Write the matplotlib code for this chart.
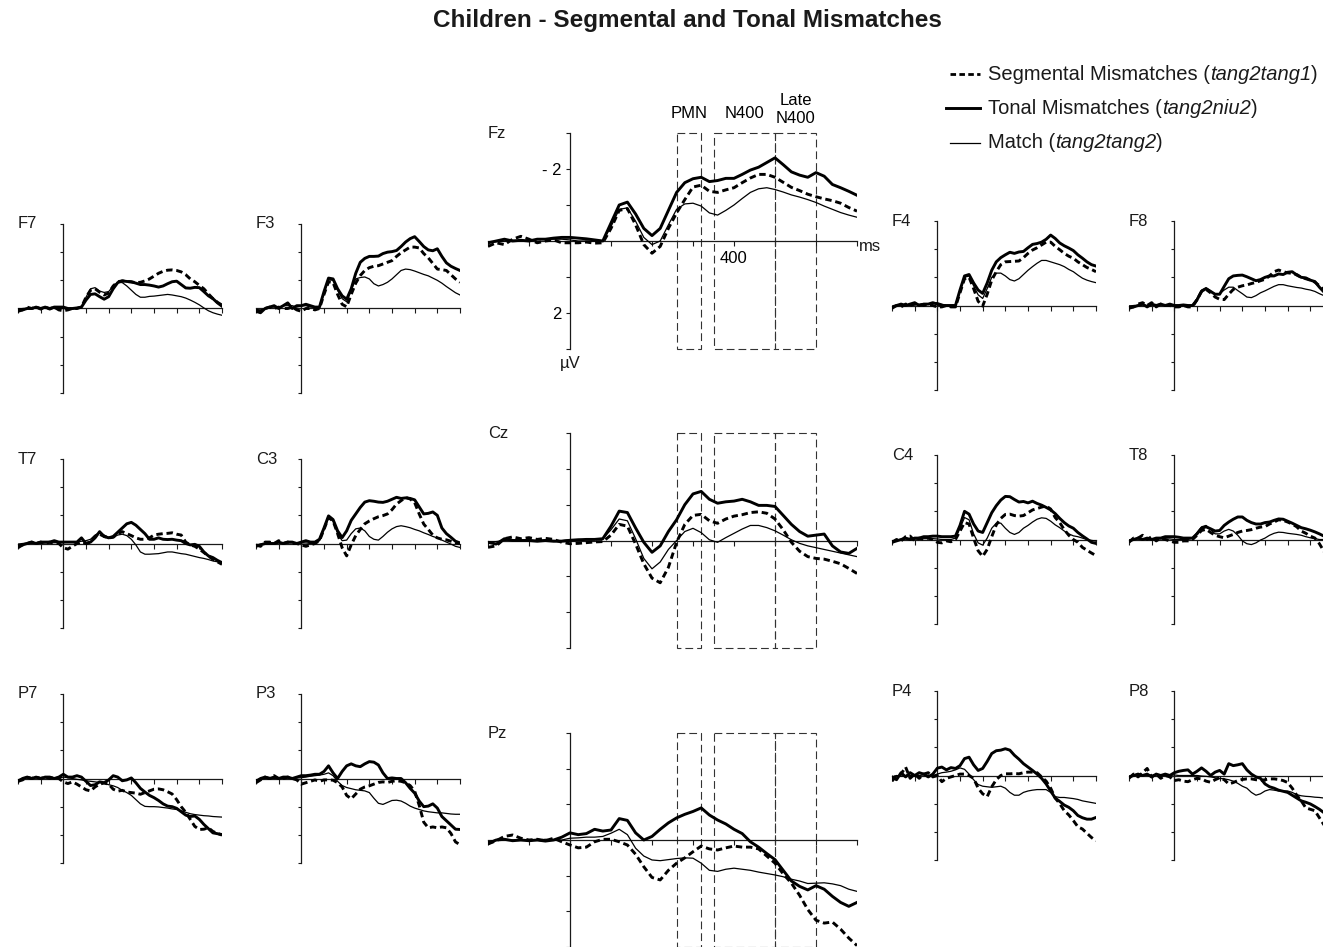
import numpy as np
import matplotlib
matplotlib.use("Agg")
import matplotlib.pyplot as plt
from matplotlib.patches import Rectangle
from matplotlib.lines import Line2D
from matplotlib.text import Annotation

plt.rcParams['font.family'] = ['Liberation Sans', 'DejaVu Sans']

# ---------------- data ----------------
TIME = np.arange(-200, 701, 20)  # ms

TITLE = "Children - Segmental and Tonal Mismatches"
LEGEND_NAMES = ["Segmental Mismatches", "Tonal Mismatches", "Match"]
LEGEND_ITEMS = ["tang2tang1", "tang2niu2", "tang2tang2"]
WINDOWS = [(260, 320), (350, 500), (500, 600)]
WINDOW_LABELS = ["PMN", "N400", "Late\nN400"]

# Fz
FZ_T = [0.05, 0.0, -0.05, 0.0, -0.02, 0.0, -0.05, -0.05, -0.08, -0.1,
        -0.1, -0.08, -0.06, -0.03, 0.0, -0.5, -1.0, -1.08, -0.75, -0.35,
        -0.15, -0.35, -0.85, -1.35, -1.62, -1.73, -1.77, -1.65, -1.68, -1.74,
        -1.74, -1.85, -1.97, -2.05, -2.18, -2.31, -2.12, -1.92, -1.83, -1.77,
        -1.9, -1.8, -1.57, -1.48, -1.38, -1.27]
FZ_S = [0.15, 0.05, 0.1, -0.05, -0.13, -0.05, 0.05, 0.0, -0.03, 0.05,
        0.05, 0.05, 0.03, 0.06, 0.05, -0.35, -0.85, -0.9, -0.45, 0.1,
        0.34, 0.15, -0.35, -0.78, -1.15, -1.5, -1.55, -1.38, -1.35, -1.42,
        -1.48, -1.62, -1.75, -1.85, -1.85, -1.77, -1.63, -1.49, -1.4, -1.3,
        -1.23, -1.17, -1.12, -1.05, -0.93, -0.83]
FZ_M = [0.05, 0.02, 0.0, -0.02, 0.0, -0.02, -0.04, -0.05, -0.05, -0.05,
        -0.03, 0.0, 0.0, 0.0, 0.0, -0.4, -0.88, -0.92, -0.55, -0.1,
        0.1, 0.0, -0.45, -0.88, -1.03, -1.05, -0.97, -0.78, -0.72, -0.85,
        -1.0, -1.18, -1.35, -1.45, -1.48, -1.43, -1.36, -1.28, -1.22, -1.15,
        -1.07, -0.97, -0.88, -0.79, -0.72, -0.66]
# Cz
CZ_T = [0.05, 0.1, -0.05, 0.0, 0.0, 0.0, 0.02, 0.0, 0.02, 0.02,
        0.0, -0.02, -0.03, -0.03, -0.05, -0.4, -0.82, -0.78, -0.35, 0.05,
        0.33, 0.15, -0.25, -0.58, -1.0, -1.3, -1.37, -1.15, -1.04, -1.08,
        -1.1, -1.15, -1.08, -0.98, -0.98, -0.95, -0.7, -0.45, -0.25, -0.12,
        -0.15, -0.18, 0.15, 0.32, 0.36, 0.22]
CZ_S = [0.19, 0.15, -0.05, -0.1, -0.05, -0.08, -0.03, -0.06, -0.03, 0.05,
        0.09, 0.08, 0.06, 0.04, 0.03, -0.15, -0.45, -0.4, 0.1, 0.65,
        1.05, 1.18, 0.75, 0.05, -0.45, -0.7, -0.73, -0.55, -0.48, -0.6,
        -0.68, -0.72, -0.78, -0.8, -0.76, -0.6, -0.3, 0.05, 0.3, 0.45,
        0.5, 0.52, 0.58, 0.65, 0.78, 0.92]
CZ_M = [0.05, 0.03, 0.0, -0.02, 0.0, -0.02, 0.0, -0.02, 0.0, 0.0,
        -0.03, -0.03, -0.02, -0.02, -0.05, -0.3, -0.6, -0.55, -0.05, 0.5,
        0.79, 0.6, 0.25, 0.0, -0.25, -0.34, -0.22, -0.02, 0.05, -0.08,
        -0.2, -0.32, -0.42, -0.42, -0.36, -0.27, -0.15, -0.02, 0.08, 0.15,
        0.2, 0.25, 0.3, 0.35, 0.4, 0.45]
# Pz
PZ_T = [0.1, 0.0, -0.02, 0.02, 0.0, 0.02, 0.0, 0.03, 0.0, -0.08,
        -0.2, -0.15, -0.18, -0.3, -0.25, -0.28, -0.6, -0.55, -0.2, 0.0,
        -0.1, -0.3, -0.48, -0.62, -0.72, -0.8, -0.9, -0.7, -0.56, -0.45,
        -0.3, -0.18, 0.05, 0.2, 0.38, 0.55, 0.85, 1.15, 1.3, 1.4,
        1.28, 1.38, 1.58, 1.75, 1.86, 1.75]
PZ_S = [0.11, 0.02, -0.1, -0.14, -0.05, 0.0, -0.02, 0.02, -0.05, 0.05,
        0.14, 0.22, 0.2, 0.05, -0.02, -0.02, 0.05, 0.14, 0.4, 0.75,
        1.05, 1.12, 0.85, 0.65, 0.5, 0.33, 0.17, 0.25, 0.28, 0.22,
        0.17, 0.2, 0.2, 0.25, 0.45, 0.65, 0.95, 1.21, 1.55, 1.95,
        2.25, 2.33, 2.3, 2.5, 2.75, 2.96]
PZ_M = [0.05, 0.0, -0.02, 0.0, 0.0, 0.02, 0.0, -0.02, 0.0, 0.0,
        -0.05, -0.06, -0.08, -0.08, -0.1, -0.19, -0.3, -0.15, 0.23, 0.45,
        0.56, 0.58, 0.55, 0.52, 0.5, 0.51, 0.65, 0.85, 0.88, 0.82,
        0.79, 0.82, 0.85, 0.9, 0.94, 0.98, 1.03, 1.1, 1.15, 1.22,
        1.21, 1.2, 1.23, 1.28, 1.38, 1.44]
# F7
F7_T = [0.1, 0.05, 0.0, 0.0, -0.05, 0.0, -0.05, 0.0, -0.05, -0.05,
        -0.05, 0.0, 0.0, -0.02, -0.05, -0.3, -0.5, -0.52, -0.42, -0.33,
        -0.42, -0.7, -0.92, -0.98, -0.96, -0.95, -0.9, -0.85, -0.85, -0.83,
        -0.8, -0.76, -0.8, -0.88, -0.95, -0.97, -0.85, -0.73, -0.72, -0.75,
        -0.74, -0.6, -0.45, -0.35, -0.2, -0.08]
F7_S = [0.05, 0.05, -0.05, 0.0, -0.05, 0.02, -0.05, 0.02, -0.05, 0.05,
        0.08, 0.05, 0.0, 0.0, -0.05, -0.4, -0.65, -0.7, -0.58, -0.48,
        -0.55, -0.8, -0.95, -0.98, -0.96, -0.94, -0.92, -0.93, -0.98, -1.05,
        -1.15, -1.25, -1.32, -1.36, -1.37, -1.35, -1.3, -1.2, -1.05, -0.95,
        -0.82, -0.7, -0.52, -0.35, -0.22, -0.12]
F7_M = [0.02, 0.0, 0.0, -0.02, 0.0, -0.02, 0.0, -0.02, 0.0, 0.0,
        0.0, 0.02, 0.02, 0.0, -0.05, -0.4, -0.7, -0.74, -0.62, -0.57,
        -0.6, -0.8, -0.93, -0.92, -0.8, -0.65, -0.5, -0.4, -0.4, -0.43,
        -0.44, -0.46, -0.48, -0.5, -0.48, -0.45, -0.42, -0.37, -0.3, -0.22,
        -0.13, -0.02, 0.08, 0.15, 0.2, 0.24]
# F3
F3_T = [0.1, 0.15, 0.0, -0.05, -0.1, 0.0, -0.1, -0.2, 0.0, -0.1,
        -0.1, -0.15, -0.1, -0.05, -0.05, -0.6, -1.08, -1.05, -0.7, -0.45,
        -0.33, -0.7, -1.25, -1.64, -1.78, -1.85, -1.85, -1.86, -1.95, -2.0,
        -2.02, -2.06, -2.2, -2.36, -2.48, -2.55, -2.38, -2.2, -2.08, -2.05,
        -2.12, -1.85, -1.62, -1.5, -1.42, -1.35]
F3_S = [0.05, 0.1, 0.0, -0.05, 0.0, -0.05, 0.0, 0.0, -0.05, 0.05,
        0.1, 0.0, 0.0, 0.05, 0.0, -0.5, -0.95, -0.92, -0.5, -0.15,
        -0.06, -0.5, -0.9, -1.17, -1.35, -1.45, -1.5, -1.52, -1.58, -1.64,
        -1.7, -1.85, -1.98, -2.08, -2.18, -2.18, -2.15, -1.95, -1.8, -1.6,
        -1.4, -1.38, -1.35, -1.2, -1.05, -0.93]
F3_M = [0.05, 0.05, 0.0, -0.05, -0.05, -0.05, -0.1, -0.1, -0.1, -0.05,
        -0.1, -0.1, -0.05, -0.05, -0.05, -0.55, -1.02, -1.0, -0.65, -0.35,
        -0.24, -0.65, -1.05, -1.1, -1.12, -1.05, -0.88, -0.8, -0.85, -0.93,
        -1.05, -1.2, -1.35, -1.4, -1.38, -1.33, -1.27, -1.21, -1.16, -1.08,
        -1.0, -0.9, -0.78, -0.67, -0.56, -0.48]
# F4
F4_T = [0.05, 0.0, -0.05, 0.0, -0.05, -0.1, 0.0, -0.05, -0.05, -0.1,
        -0.05, 0.0, 0.0, 0.0, 0.0, -0.55, -1.05, -1.1, -0.8, -0.55,
        -0.43, -0.8, -1.25, -1.55, -1.7, -1.8, -1.89, -1.85, -1.9, -1.92,
        -2.05, -2.17, -2.2, -2.25, -2.35, -2.5, -2.38, -2.22, -2.12, -2.04,
        -1.95, -1.8, -1.68, -1.55, -1.45, -1.4]
F4_S = [0.1, 0.0, 0.05, -0.05, 0.0, -0.05, -0.05, 0.0, -0.05, 0.0,
        0.05, 0.05, 0.0, 0.05, 0.05, -0.45, -0.95, -1.0, -0.6, -0.15,
        0.02, -0.4, -0.9, -1.2, -1.45, -1.55, -1.56, -1.57, -1.58, -1.7,
        -1.85, -1.97, -2.05, -2.15, -2.25, -2.25, -2.1, -1.98, -1.85, -1.75,
        -1.68, -1.55, -1.45, -1.35, -1.28, -1.2]
F4_M = [0.05, 0.02, 0.0, -0.02, 0.0, -0.02, -0.05, -0.05, -0.05, -0.1,
        -0.1, -0.05, 0.0, 0.0, 0.0, -0.5, -1.0, -1.05, -0.7, -0.38,
        -0.25, -0.6, -1.0, -1.15, -1.15, -1.05, -0.92, -0.87, -0.95, -1.1,
        -1.25, -1.38, -1.5, -1.6, -1.6, -1.55, -1.5, -1.45, -1.38, -1.28,
        -1.2, -1.08, -0.97, -0.9, -0.85, -0.81]
# F8
F8_T = [0.1, 0.05, 0.0, -0.05, 0.05, -0.05, 0.0, -0.05, 0.0, -0.05,
        0.0, 0.0, -0.02, 0.0, 0.0, -0.2, -0.5, -0.6, -0.5, -0.4,
        -0.4, -0.68, -0.95, -1.05, -1.07, -1.08, -1.02, -0.95, -0.88, -0.92,
        -1.0, -1.05, -1.05, -1.12, -1.1, -1.18, -1.2, -1.08, -1.0, -0.98,
        -0.9, -0.85, -0.65, -0.48, -0.35, -0.2]
F8_S = [0.05, 0.05, -0.05, -0.1, 0.0, -0.1, 0.05, -0.05, 0.0, 0.0,
        0.05, 0.05, 0.0, 0.05, 0.05, -0.2, -0.5, -0.57, -0.45, -0.3,
        -0.22, -0.21, -0.4, -0.57, -0.65, -0.7, -0.73, -0.78, -0.82, -0.88,
        -0.93, -1.05, -1.2, -1.26, -1.2, -1.16, -1.14, -1.1, -1.0, -0.95,
        -0.9, -0.83, -0.7, -0.55, -0.4, -0.25]
F8_M = [0.02, 0.0, 0.0, -0.02, 0.0, -0.02, 0.0, -0.02, 0.0, 0.0,
        0.0, 0.0, 0.0, 0.0, 0.0, -0.25, -0.55, -0.63, -0.52, -0.4,
        -0.42, -0.55, -0.65, -0.65, -0.53, -0.42, -0.3, -0.28, -0.35, -0.45,
        -0.52, -0.6, -0.68, -0.74, -0.74, -0.7, -0.67, -0.64, -0.62, -0.58,
        -0.55, -0.5, -0.42, -0.35, -0.28, -0.22]
# T7
T7_T = [0.1, 0.05, 0.0, -0.05, 0.0, -0.05, -0.05, -0.05, -0.1, -0.05,
        -0.05, -0.05, -0.05, -0.05, -0.2, 0.0, -0.05, -0.2, -0.42, -0.25,
        -0.2, -0.25, -0.4, -0.55, -0.7, -0.75, -0.65, -0.5, -0.35, -0.15,
        -0.15, -0.2, -0.15, -0.14, -0.15, -0.12, -0.1, 0.0, 0.05, 0.03,
        0.1, 0.3, 0.44, 0.5, 0.6, 0.68]
T7_S = [0.15, 0.05, 0.0, -0.05, 0.0, -0.05, 0.0, -0.05, 0.0, 0.0,
        0.15, 0.2, 0.1, 0.0, -0.05, 0.0, -0.05, -0.25, -0.33, -0.25,
        -0.2, -0.22, -0.35, -0.42, -0.35, -0.28, -0.2, -0.15, -0.15, -0.2,
        -0.3, -0.33, -0.35, -0.36, -0.38, -0.33, -0.3, -0.05, 0.05, 0.1,
        0.2, 0.32, 0.45, 0.56, 0.65, 0.74]
T7_M = [0.02, 0.0, -0.02, 0.0, -0.02, 0.0, -0.02, -0.02, -0.03, -0.03,
        -0.03, -0.05, -0.05, -0.05, -0.08, -0.1, -0.15, -0.3, -0.39, -0.3,
        -0.22, -0.22, -0.3, -0.33, -0.28, -0.15, 0.05, 0.3, 0.38, 0.38,
        0.37, 0.36, 0.33, 0.3, 0.3, 0.33, 0.36, 0.38, 0.42, 0.46,
        0.5, 0.53, 0.57, 0.62, 0.65, 0.68]
# C3
C3_T = [0.1, 0.05, 0.0, 0.0, 0.0, -0.05, 0.0, -0.05, -0.05, 0.0,
        -0.05, -0.1, -0.05, -0.05, -0.15, -0.55, -0.98, -0.85, -0.45, -0.21,
        -0.45, -0.82, -1.05, -1.28, -1.47, -1.52, -1.5, -1.47, -1.46, -1.5,
        -1.57, -1.64, -1.6, -1.62, -1.6, -1.55, -1.3, -1.05, -1.07, -1.12,
        -1.0, -0.55, -0.35, -0.22, -0.08, -0.02]
C3_S = [0.05, 0.1, -0.05, -0.05, 0.0, -0.1, 0.0, -0.05, 0.0, 0.0,
        0.05, 0.1, 0.05, 0.0, -0.1, -0.5, -0.92, -0.8, -0.35, 0.15,
        0.44, 0.05, -0.28, -0.5, -0.7, -0.8, -0.88, -0.95, -0.99, -1.05,
        -1.2, -1.4, -1.52, -1.64, -1.58, -1.45, -1.05, -0.69, -0.5, -0.3,
        -0.2, -0.15, -0.13, -0.08, -0.03, 0.0]
C3_M = [0.05, 0.02, 0.0, -0.02, 0.0, -0.02, 0.0, -0.02, -0.02, 0.0,
        -0.02, -0.02, 0.0, 0.0, -0.1, -0.5, -0.9, -0.8, -0.35, -0.1,
        -0.12, -0.35, -0.52, -0.55, -0.45, -0.25, -0.15, -0.12, -0.25, -0.4,
        -0.52, -0.6, -0.63, -0.6, -0.56, -0.5, -0.45, -0.38, -0.32, -0.25,
        -0.2, -0.12, -0.05, 0.02, 0.1, 0.14]
# C4
C4_T = [0.1, 0.05, 0.0, -0.05, 0.0, -0.05, -0.05, -0.1, -0.1, -0.12,
        -0.12, -0.1, -0.1, -0.1, -0.12, -0.5, -1.0, -0.9, -0.55, -0.3,
        -0.25, -0.6, -0.95, -1.2, -1.4, -1.53, -1.52, -1.42, -1.33, -1.35,
        -1.3, -1.36, -1.28, -1.22, -1.14, -1.05, -0.92, -0.75, -0.6, -0.48,
        -0.4, -0.25, -0.13, -0.02, 0.1, 0.14]
C4_S = [0.1, 0.0, 0.05, -0.1, -0.12, 0.05, -0.05, 0.0, -0.05, 0.0,
        0.1, 0.12, 0.05, 0.08, 0.0, -0.3, -0.6, -0.55, -0.05, 0.4,
        0.6, 0.35, -0.1, -0.52, -0.75, -0.89, -0.9, -0.85, -0.83, -0.85,
        -0.95, -1.05, -1.1, -1.15, -1.19, -1.08, -0.78, -0.6, -0.35, -0.15,
        0.0, 0.1, 0.28, 0.38, 0.48, 0.57]
C4_M = [0.05, 0.02, 0.0, -0.02, 0.0, -0.02, 0.0, -0.03, -0.03, -0.03,
        -0.02, 0.0, 0.0, 0.0, -0.05, -0.4, -0.78, -0.7, -0.2, 0.12,
        0.2, -0.05, -0.4, -0.58, -0.58, -0.4, -0.25, -0.18, -0.25, -0.4,
        -0.5, -0.62, -0.72, -0.77, -0.75, -0.65, -0.52, -0.42, -0.3, -0.2,
        -0.13, -0.1, -0.05, 0.0, 0.03, 0.06]
# T8
T8_T = [0.05, 0.0, -0.05, 0.0, -0.05, 0.0, -0.05, -0.05, -0.1, -0.1,
        -0.1, -0.08, -0.05, -0.05, -0.05, -0.2, -0.4, -0.45, -0.38, -0.3,
        -0.32, -0.5, -0.62, -0.72, -0.8, -0.8, -0.68, -0.6, -0.55, -0.55,
        -0.6, -0.62, -0.68, -0.73, -0.72, -0.65, -0.58, -0.5, -0.42, -0.38,
        -0.33, -0.27, -0.2, -0.12, -0.08, -0.05]
T8_S = [0.1, -0.05, -0.05, -0.15, 0.0, -0.1, 0.05, -0.05, 0.0, 0.05,
        0.1, 0.1, 0.05, 0.05, 0.0, -0.15, -0.32, -0.36, -0.25, -0.15,
        -0.1, -0.06, -0.12, -0.18, -0.25, -0.3, -0.32, -0.35, -0.4, -0.44,
        -0.46, -0.55, -0.62, -0.7, -0.68, -0.62, -0.55, -0.45, -0.3, -0.22,
        -0.12, -0.05, 0.15, 0.42, 0.5, 0.55]
T8_M = [0.02, 0.0, -0.02, 0.0, -0.02, 0.0, -0.02, -0.02, -0.02, -0.02,
        0.0, 0.0, 0.0, 0.0, -0.05, -0.25, -0.45, -0.5, -0.35, -0.2,
        -0.2, -0.3, -0.36, -0.3, -0.15, 0.05, 0.15, 0.18, 0.12, 0.02,
        -0.05, -0.15, -0.22, -0.26, -0.25, -0.22, -0.2, -0.18, -0.15, -0.1,
        -0.06, -0.03, 0.0, 0.0, 0.02, 0.02]
# P7
P7_T = [0.1, 0.0, -0.05, 0.0, -0.05, 0.0, -0.05, -0.05, 0.0, -0.05,
        -0.15, -0.05, -0.05, -0.1, -0.05, 0.1, 0.25, 0.22, 0.12, 0.15,
        0.05, -0.1, -0.05, 0.08, 0.05, -0.02, 0.15, 0.35, 0.48, 0.6,
        0.68, 0.78, 0.9, 0.98, 1.0, 1.06, 1.18, 1.3, 1.35, 1.33,
        1.45, 1.63, 1.78, 1.93, 1.96, 1.99]
P7_S = [0.1, 0.05, -0.05, 0.0, -0.05, 0.0, -0.05, 0.0, -0.05, 0.0,
        0.12, 0.18, 0.12, 0.2, 0.3, 0.4, 0.44, 0.3, 0.2, 0.16,
        0.2, 0.38, 0.45, 0.42, 0.48, 0.5, 0.52, 0.56, 0.5, 0.44,
        0.38, 0.37, 0.4, 0.47, 0.55, 0.75, 1.0, 1.2, 1.45, 1.7,
        1.81, 1.8, 1.75, 1.88, 1.95, 2.01]
P7_M = [0.05, 0.0, -0.02, 0.0, -0.02, 0.0, -0.02, 0.0, -0.02, -0.02,
        -0.05, -0.03, 0.0, 0.03, 0.05, 0.08, 0.1, 0.12, 0.14, 0.18,
        0.22, 0.26, 0.32, 0.42, 0.5, 0.6, 0.75, 0.9, 0.99, 1.0,
        1.0, 1.01, 1.03, 1.05, 1.08, 1.1, 1.15, 1.2, 1.25, 1.28,
        1.3, 1.32, 1.33, 1.35, 1.36, 1.37]
# P3
P3_T = [0.1, 0.0, -0.05, 0.0, -0.05, 0.0, -0.05, -0.05, 0.0, -0.05,
        -0.1, -0.1, -0.12, -0.15, -0.15, -0.25, -0.45, -0.2, 0.0, -0.25,
        -0.45, -0.52, -0.45, -0.42, -0.52, -0.6, -0.58, -0.48, -0.2, 0.0,
        -0.02, 0.0, 0.0, 0.15, 0.35, 0.52, 0.8, 1.0, 0.98, 0.9,
        1.05, 1.35, 1.5, 1.65, 1.8, 1.81]
P3_S = [0.15, 0.05, -0.05, 0.0, -0.1, 0.0, 0.0, -0.05, 0.0, 0.05,
        0.2, 0.15, 0.1, 0.05, 0.1, 0.05, 0.05, 0.06, 0.15, 0.3,
        0.6, 0.72, 0.55, 0.38, 0.3, 0.26, 0.2, 0.14, 0.12, 0.14,
        0.1, 0.08, 0.1, 0.15, 0.25, 0.45, 0.95, 1.55, 1.75, 1.72,
        1.75, 1.72, 1.75, 1.95, 2.25, 2.35]
P3_M = [0.05, 0.02, 0.0, -0.02, 0.0, -0.02, 0.0, -0.02, -0.02, -0.02,
        -0.03, -0.05, -0.08, -0.1, -0.12, -0.15, -0.2, -0.1, 0.1, 0.25,
        0.32, 0.36, 0.4, 0.42, 0.44, 0.5, 0.7, 0.88, 0.92, 0.85,
        0.78, 0.77, 0.8, 0.88, 0.98, 1.05, 1.1, 1.15, 1.18, 1.2,
        1.22, 1.22, 1.24, 1.26, 1.27, 1.27]
# P4
P4_T = [0.05, 0.15, -0.1, 0.05, -0.1, 0.0, -0.1, -0.05, 0.05, -0.05,
        -0.26, -0.3, -0.2, -0.28, -0.25, -0.35, -0.6, -0.65, -0.38, -0.18,
        -0.25, -0.5, -0.78, -0.88, -0.9, -0.95, -0.9, -0.72, -0.58, -0.42,
        -0.3, -0.18, -0.05, 0.1, 0.3, 0.55, 0.8, 0.92, 1.05, 1.13,
        1.25, 1.42, 1.5, 1.55, 1.55, 1.49]
P4_S = [0.2, 0.0, -0.05, -0.3, 0.1, -0.05, 0.1, -0.05, -0.1, 0.05,
        0.0, 0.22, 0.1, 0.05, 0.0, -0.05, -0.05, 0.0, 0.1, 0.45,
        0.65, 0.75, 0.4, 0.15, 0.0, -0.06, -0.06, -0.07, -0.06, -0.1,
        -0.12, -0.12, -0.1, 0.05, 0.2, 0.45, 0.8, 1.0, 1.25, 1.4,
        1.6, 1.82, 1.9, 2.05, 2.2, 2.32]
P4_M = [0.05, 0.0, 0.02, 0.0, 0.0, -0.02, 0.0, -0.02, 0.0, 0.0,
        -0.05, -0.1, -0.12, -0.15, -0.2, -0.27, -0.22, -0.05, 0.15, 0.32,
        0.38, 0.4, 0.42, 0.4, 0.38, 0.45, 0.6, 0.7, 0.7, 0.6,
        0.55, 0.52, 0.5, 0.5, 0.5, 0.6, 0.75, 0.78, 0.78, 0.8,
        0.82, 0.85, 0.9, 0.93, 0.96, 0.99]
# P8
P8_T = [0.05, 0.0, -0.05, 0.0, -0.05, 0.05, -0.05, 0.0, -0.05, 0.0,
        -0.1, -0.15, -0.18, -0.2, -0.05, -0.15, -0.27, -0.15, 0.0, -0.12,
        -0.18, -0.05, -0.42, -0.35, -0.38, -0.42, -0.2, -0.05, 0.05, 0.1,
        0.3, 0.4, 0.45, 0.52, 0.56, 0.6, 0.7, 0.8, 0.9, 0.95,
        1.01, 1.1, 1.2, 1.32, 1.38, 1.45]
P8_S = [0.1, -0.05, 0.05, -0.1, -0.25, 0.05, -0.05, 0.1, 0.0, 0.05,
        0.18, 0.15, 0.2, 0.22, 0.15, 0.1, 0.12, 0.2, 0.24, 0.15,
        0.08, 0.15, 0.3, 0.25, 0.18, 0.14, 0.12, 0.12, 0.15, 0.17,
        0.15, 0.12, 0.12, 0.14, 0.18, 0.25, 0.45, 0.7, 0.9, 1.15,
        1.2, 1.25, 1.5, 1.75, 1.85, 1.95]
P8_M = [0.03, 0.0, 0.0, -0.02, 0.0, 0.0, -0.02, 0.0, 0.0, 0.0,
        -0.02, 0.0, 0.0, 0.0, 0.0, 0.0, 0.02, 0.03, 0.05, 0.08,
        0.1, 0.12, 0.15, 0.2, 0.28, 0.38, 0.45, 0.6, 0.7, 0.65,
        0.55, 0.5, 0.52, 0.55, 0.55, 0.55, 0.6, 0.68, 0.72, 0.74,
        0.75, 0.77, 0.78, 0.8, 0.81, 0.82]

# ---------------- layout ----------------
W, H = 1323, 947
fig = plt.figure(figsize=(W / 100, H / 100), dpi=100)

INK = '#1a1a1a'


def add_ax(left, top, w, h):
    return fig.add_axes([left / W, 1 - (top + h) / H, w / W, h / H])


def style_ax(ax, big=False):
    ax.set_xlim(-200, 700)
    ax.set_ylim(3, -3)
    ax.patch.set_visible(False)
    for s in ('top', 'right'):
        ax.spines[s].set_visible(False)
    ax.spines['left'].set_position(('data', 0))
    ax.spines['bottom'].set_position(('data', 0))
    for s in ('left', 'bottom'):
        ax.spines[s].set_linewidth(0.9)
        ax.spines[s].set_color(INK)
    ax.set_xticks(np.arange(-200, 701, 100))
    ax.set_yticks(np.arange(-3, 4, 1))
    ax.set_xticklabels([''] * 10)
    ax.set_yticklabels([''] * 7)
    ax.tick_params(axis='x', direction='out', length=3.5 if big else 3.4,
                   width=0.8, color=INK, labelsize=12, pad=4)
    ax.tick_params(axis='y', direction='out', length=2.8 if big else 2.2,
                   width=0.8, color=INK, labelsize=12, pad=3)


def draw_curves(ax, seg, ton, mat):
    ax.plot(TIME, mat, color='black', lw=0.9, solid_joinstyle='round', zorder=3)
    ax.plot(TIME, seg, color='black', lw=2.1, linestyle=(0, (2.2, 1.3)), zorder=4)
    ax.plot(TIME, ton, color='black', lw=2.1, solid_joinstyle='round', zorder=5)


def label(ax, name):
    ax.text(0.0, 1.0, name, transform=ax.transAxes, ha='left', va='center',
            fontsize=12, color=INK)


def windows(ax):
    for (a, b) in WINDOWS:
        r = Rectangle((a, -3), b - a, 6, fill=False, edgecolor='#333333',
                      lw=0.8, linestyle=(0, (7, 3.6)), clip_on=False, zorder=2)
        ax.add_patch(r)


# center column
CENTER = [("Fz", 133, 216, FZ_S, FZ_T, FZ_M),
          ("Cz", 433, 215, CZ_S, CZ_T, CZ_M),
          ("Pz", 733, 214, PZ_S, PZ_T, PZ_M)]
for i, (name, top, h, s, t, m) in enumerate(CENTER):
    ax = add_ax(488, top, 369, h)
    style_ax(ax, big=True)
    windows(ax)
    draw_curves(ax, s, t, m)
    label(ax, name)
    if i == 0:
        ax.set_yticklabels(['', '- 2', '', '', '', '2', ''])
        xl = [''] * 10
        xl[6] = '400'
        ax.set_xticklabels(xl)
        ax.text(0, 3.4, "µV", ha='center', va='center', fontsize=12, color=INK)
        ax.text(705, 0.15, "ms", ha='left', va='center', fontsize=12, color=INK)
        centers = [(a + b) / 2 for a, b in WINDOWS]
        ax.text(centers[0], -3.55, WINDOW_LABELS[0], ha='center', va='center', fontsize=12)
        ax.text(centers[1], -3.55, WINDOW_LABELS[1], ha='center', va='center', fontsize=12)
        ax.text(centers[2], -3.65, WINDOW_LABELS[2], ha='center', va='center',
                fontsize=12, linespacing=1.3)

# side panels
SIDE = [
    ("F7", 18, 224, F7_S, F7_T, F7_M), ("F3", 256, 224, F3_S, F3_T, F3_M),
    ("F4", 892, 221, F4_S, F4_T, F4_M), ("F8", 1129, 221, F8_S, F8_T, F8_M),
    ("T7", 18, 459, T7_S, T7_T, T7_M), ("C3", 256, 459, C3_S, C3_T, C3_M),
    ("C4", 892, 455, C4_S, C4_T, C4_M), ("T8", 1129, 455, T8_S, T8_T, T8_M),
    ("P7", 18, 694, P7_S, P7_T, P7_M), ("P3", 256, 694, P3_S, P3_T, P3_M),
    ("P4", 892, 691, P4_S, P4_T, P4_M), ("P8", 1129, 691, P8_S, P8_T, P8_M),
]
for name, left, top, s, t, m in SIDE:
    ax = add_ax(left, top, 204, 169)
    style_ax(ax)
    draw_curves(ax, s, t, m)
    label(ax, name)

# title
fig.text(687 / W, 1 - 20 / H, TITLE, ha='center', va='center',
         fontsize=17.5, fontweight='bold', color=INK)

# legend
leg_rows = [(74, dict(lw=2.0, linestyle=(0, (2.0, 1.2))), 950),
            (108, dict(lw=2.1, linestyle='-'), 946),
            (143, dict(lw=0.9, linestyle='-'), 950)]
for (y, kw, x0), name, item in zip(leg_rows, LEGEND_NAMES, LEGEND_ITEMS):
    fig.add_artist(Line2D([x0 / W, 980 / W], [1 - y / H, 1 - y / H],
                          color='black', transform=fig.transFigure, **kw))
    t1 = fig.text(988 / W, 1 - y / H, name + " (", ha='left', va='center',
                  fontsize=14.5, color=INK)
    a2 = fig.add_artist(Annotation(item, xy=(1, 0), xycoords=t1, va='bottom',
                                   ha='left', fontsize=14.5, color=INK,
                                   style='italic'))
    fig.add_artist(Annotation(")", xy=(1, 0), xycoords=a2, va='bottom',
                              ha='left', fontsize=14.5, color=INK))

fig.savefig("out.png", dpi=100)
